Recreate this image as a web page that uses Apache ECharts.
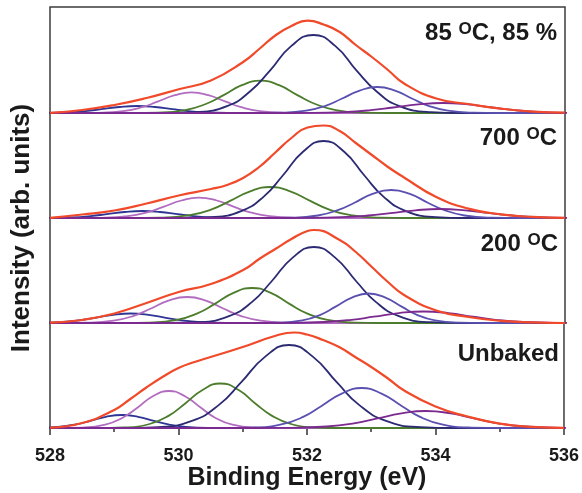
<!DOCTYPE html>
<html lang="en">
<head>
<meta charset="UTF-8">
<title>O 1s spectra</title>
<script src="https://cdn.jsdelivr.net/npm/echarts@6.0.0/dist/echarts.min.js"></script>
<style>
  html, body { margin: 0; padding: 0; background: #fff; }
  #main { width: 582px; height: 493px; }
</style>
</head>
<body>
<div id="main"></div>
<script>
// x axis
var energyMin = 528, energyMax = 536, energyStep = 2;

// panel labels, top to bottom (rich text, O is raised)
var panelLabels = ['{t|85 }{s|O}{t|C, 85 %}', '{t|700 }{s|O}{t|C}', '{t|200 }{s|O}{t|C}', '{t|Unbaked}'];

// 85 C, 85 % : [binding energy, intensity]
var p85Blue = [[527.45,0],[527.85,0.1],[528.25,0.6],[528.55,1.9],[528.8,3.8],[529.08,6.0],[529.35,7],[529.63,6.0],[529.9,3.8],[530.15,1.9],[530.45,0.6],[530.85,0.1],[531.25,0],[536,0]];
var p85Orchid = [[528,0],[528.38,0],[528.76,0.2],[529.14,1.8],[529.43,5.8],[529.67,11.3],[529.94,17.8],[530.2,20.7],[530.46,17.8],[530.73,11.3],[530.97,5.8],[531.26,1.8],[531.64,0.2],[532.02,0],[536,0]];
var p85Green = [[528,0],[529.26,0],[529.68,0.4],[530.1,2.9],[530.42,9.0],[530.69,17.6],[530.98,27.8],[531.27,32.3],[531.56,27.8],[531.85,17.6],[532.12,9.0],[532.44,2.9],[532.86,0.4],[533.28,0],[536,0]];
var p85Navy = [[528,0],[529.77,0],[530.26,0.9],[530.75,6.9],[531.11,21.7],[531.42,42.6],[531.75,67.1],[532.09,78],[532.43,67.1],[532.76,42.6],[533.07,21.7],[533.43,6.9],[533.92,0.9],[534.41,0],[536,0]];
var p85Slate = [[528,0],[531.18,0],[531.58,0.3],[531.98,2.3],[532.28,7.2],[532.53,14.2],[532.81,22.4],[533.08,26],[533.36,22.4],[533.63,14.2],[533.88,7.2],[534.18,2.3],[534.58,0.3],[534.98,0],[536,0]];
var p85Purple = [[528,0],[531.44,0],[532.0,0.1],[532.56,0.9],[532.98,2.8],[533.33,5.5],[533.72,8.6],[534.1,10],[534.49,8.6],[534.87,5.5],[535.22,2.8],[535.64,0.9],[536.2,0.1],[536.76,0]];
var p85Envelope = [[528,0.2],[528.5,3],[529,8],[529.5,15],[530,23.7],[530.5,32.5],[531,51],[531.25,64],[531.5,77.5],[531.75,87],[532,92.3],[532.25,88.5],[532.5,81],[532.75,68],[533,56],[533.25,43],[533.5,29.5],[534,14.5],[534.5,9],[535,4.4],[535.5,1.4],[536,0.3]];

// 700 C
var p700Blue = [[527.53,0],[527.93,0.1],[528.33,0.6],[528.63,1.9],[528.88,3.8],[529.16,6.0],[529.43,7],[529.71,6.0],[529.98,3.8],[530.23,1.9],[530.53,0.6],[530.93,0.1],[531.33,0],[536,0]];
var p700Orchid = [[528,0],[528.41,0],[528.81,0.2],[529.21,1.8],[529.51,5.7],[529.76,11.1],[530.04,17.5],[530.31,20.4],[530.59,17.5],[530.86,11.1],[531.11,5.7],[531.41,1.8],[531.81,0.2],[532.21,0],[536,0]];
var p700Green = [[528,0],[529.25,0],[529.71,0.3],[530.17,2.8],[530.51,8.6],[530.79,16.9],[531.11,26.7],[531.42,31],[531.73,26.7],[532.05,16.9],[532.33,8.6],[532.67,2.8],[533.13,0.3],[533.59,0],[536,0]];
var p700Navy = [[528,0],[530.05,0],[530.51,0.9],[530.97,6.9],[531.32,21.4],[531.61,42],[531.93,66.2],[532.25,77],[532.57,66.2],[532.89,42],[533.18,21.4],[533.53,6.9],[533.99,0.9],[534.45,0],[536,0]];
var p700Slate = [[528,0],[531.32,0],[531.74,0.3],[532.16,2.5],[532.47,7.8],[532.73,15.3],[533.01,24.1],[533.3,28],[533.59,24.1],[533.87,15.3],[534.13,7.8],[534.44,2.5],[534.86,0.3],[535.28,0],[536,0]];
var p700Purple = [[528,0],[531.4,0],[531.96,0.1],[532.52,0.8],[532.94,2.5],[533.29,4.9],[533.68,7.7],[534.06,9],[534.45,7.7],[534.83,4.9],[535.18,2.5],[535.6,0.8],[536.16,0.1],[536.72,0]];
var p700Envelope = [[528,0.2],[528.5,3.5],[529,7.5],[529.5,14.5],[530,22.5],[530.5,29],[530.75,33],[531,40],[531.25,51],[531.5,65.5],[531.75,80],[532,90.5],[532.25,92.5],[532.5,87],[532.75,75],[533,63],[533.25,51],[533.5,40.5],[534,21],[534.5,9.4],[535,3.7],[535.5,1.1],[536,0.2]];

// 200 C
var p200Blue = [[527.35,0],[527.75,0.1],[528.15,0.9],[528.45,2.6],[528.7,5.2],[528.98,8.2],[529.25,9.5],[529.53,8.2],[529.8,5.2],[530.05,2.6],[530.35,0.9],[530.75,0.1],[531.15,0],[536,0]];
var p200Orchid = [[528,0],[528.15,0],[528.57,0.3],[528.99,2.3],[529.3,7.2],[529.56,14.2],[529.84,22.4],[530.13,26],[530.42,22.4],[530.7,14.2],[530.96,7.2],[531.27,2.3],[531.69,0.3],[532.11,0],[536,0]];
var p200Green = [[528,0],[529.13,0],[529.55,0.4],[529.97,3.1],[530.29,9.7],[530.56,19.1],[530.85,30.1],[531.14,35],[531.43,30.1],[531.72,19.1],[531.99,9.7],[532.31,3.1],[532.73,0.4],[533.15,0],[536,0]];
var p200Navy = [[528,0],[529.82,0],[530.3,0.8],[530.78,6.8],[531.14,21.1],[531.44,41.5],[531.77,65.4],[532.1,76],[532.43,65.4],[532.76,41.5],[533.06,21.1],[533.42,6.8],[533.9,0.8],[534.38,0],[536,0]];
var p200Slate = [[528,0],[531.16,0],[531.54,0.3],[531.92,2.6],[532.2,8.2],[532.43,16.1],[532.69,25.4],[532.95,29.5],[533.21,25.4],[533.47,16.1],[533.7,8.2],[533.98,2.6],[534.36,0.3],[534.74,0],[536,0]];
var p200Purple = [[528,0],[531.14,0],[531.7,0.1],[532.26,1.0],[532.68,3.2],[533.03,6.3],[533.42,9.9],[533.8,11.5],[534.19,9.9],[534.57,6.3],[534.92,3.2],[535.34,1.0],[535.9,0.1],[536.46,0]];
var p200Envelope = [[528,0.3],[528.5,3],[529,9.5],[529.5,20],[530,31],[530.5,39],[531,53],[531.25,64],[531.5,74],[531.75,84],[532,92],[532.1,93],[532.5,83],[532.75,71],[533,56],[533.25,41],[533.5,28],[534,12.5],[534.5,6],[535,2.2],[535.5,0.6],[536,0]];

// Unbaked
var ubBlue = [[527.41,0],[527.77,0.1],[528.13,1.2],[528.4,3.6],[528.63,7.1],[528.87,11.2],[529.12,13],[529.37,11.2],[529.62,7.1],[529.84,3.6],[530.11,1.2],[530.47,0.1],[530.83,0],[536,0]];
var ubOrchid = [[528,0],[528.14,0],[528.5,0.4],[528.86,3.3],[529.13,10.3],[529.36,20.2],[529.6,31.8],[529.85,37],[530.1,31.8],[530.35,20.2],[530.57,10.3],[530.84,3.3],[531.2,0.4],[531.56,0],[536,0]];
var ubGreen = [[528,0],[528.75,0],[529.15,0.5],[529.55,4.0],[529.85,12.4],[530.1,24.3],[530.38,38.3],[530.65,44.5],[530.93,38.3],[531.2,24.3],[531.45,12.4],[531.75,4.0],[532.15,0.5],[532.55,0],[536,0]];
var ubNavy = [[528,0],[529.14,0],[529.68,0.9],[530.22,7.4],[530.63,23.1],[530.97,45.3],[531.35,71.4],[531.72,83],[532.09,71.4],[532.47,45.3],[532.81,23.1],[533.22,7.4],[533.76,0.9],[534.3,0],[536,0]];
var ubSlate = [[528,0],[530.68,0],[531.14,0.4],[531.6,3.6],[531.94,11.1],[532.22,21.8],[532.54,34.4],[532.85,40],[533.16,34.4],[533.48,21.8],[533.76,11.1],[534.1,3.6],[534.56,0.4],[535.02,0],[536,0]];
var ubPurple = [[528,0],[531.19,0],[531.75,0.2],[532.31,1.5],[532.73,4.7],[533.08,9.3],[533.47,14.6],[533.85,17],[534.24,14.6],[534.62,9.3],[534.97,4.7],[535.39,1.5],[535.95,0.2],[536.51,0]];
var ubEnvelope = [[528,0.3],[528.5,5],[529,18],[529.25,29],[529.5,40.5],[529.75,51],[530,60],[530.25,66],[530.5,71],[531,81],[531.5,92],[531.8,95.5],[532,93.5],[532.25,88],[532.5,81],[532.75,71],[533,61],[533.25,50],[533.5,38],[534,21.5],[534.5,11.5],[535,4.4],[535.5,1.1],[536,0.2]];

var panelCurves = [
    [p85Blue, p85Orchid, p85Green, p85Navy, p85Slate, p85Purple, p85Envelope],
    [p700Blue, p700Orchid, p700Green, p700Navy, p700Slate, p700Purple, p700Envelope],
    [p200Blue, p200Orchid, p200Green, p200Navy, p200Slate, p200Purple, p200Envelope],
    [ubBlue, ubOrchid, ubGreen, ubNavy, ubSlate, ubPurple, ubEnvelope]
]

var curveColors = ['#2e3594', '#b16cc0', '#4c7d2c', '#2b2a72', '#5a50b0', '#7b2a8f', '#f04a2a']
var curveWidths = [1.8, 1.8, 1.8, 1.8, 1.8, 1.8, 2.2]

var font = 'Liberation Sans, Arial, sans-serif'
var gridTop = [7, 113, 218, 323]
var gridHeight = [106, 105, 105, 105]

var chartDom = document.getElementById('main')
var myChart = echarts.init(chartDom)

var grids = [], xAxes = [], yAxes = [], series = [], graphics = []

gridTop.forEach(function (top, i) {
    var last = i === gridTop.length - 1
    grids.push({
        left: 50, right: 17, top: top, height: gridHeight[i],
        show: true, borderColor: '#3d3d3d', borderWidth: 1.5
    })
    xAxes.push({
        type: 'value', gridIndex: i,
        min: energyMin, max: energyMax, interval: energyStep,
        show: last,
        axisLine: { show: true, onZero: false, lineStyle: { color: '#333', width: 1.5 } },
        axisTick: { show: true, inside: false, length: 7, lineStyle: { color: '#333', width: 1.5 } },
        minorTick: { show: true, splitNumber: 2, length: 4, lineStyle: { color: '#333', width: 1.5 } },
        splitLine: { show: false },
        axisLabel: { show: last, margin: 19, color: '#1a1a1a', fontSize: 18, fontWeight: 'bold', fontFamily: font },
        name: last ? 'Binding Energy (eV)' : '',
        nameLocation: 'middle', nameGap: 37,
        nameTextStyle: { color: '#1a1a1a', fontSize: 25, fontWeight: 'bold', fontFamily: font }
    })
    yAxes.push({
        type: 'value', gridIndex: i, min: 0, max: gridHeight[i], show: false
    })
    panelCurves[i].forEach(function (curve, j) {
        series.push({
            type: 'line', xAxisIndex: i, yAxisIndex: i,
            data: curve, smooth: 0.5, showSymbol: false, clip: true,
            lineStyle: { color: curveColors[j], width: curveWidths[j] },
            z: j === 6 ? 4 : 3
        })
    })
})

var labelPos = [[557, 33], [557, 138], [558, 244], [559, 354]]
panelLabels.forEach(function (txt, i) {
    graphics.push({
        type: 'text', x: labelPos[i][0], y: labelPos[i][1], z: 10,
        style: {
            text: txt, align: 'right', verticalAlign: 'middle',
            rich: {
                t: { fontSize: 24, fontWeight: 'bold', fontFamily: font, fill: '#1a1a1a' },
                s: { fontSize: 17, fontWeight: 'bold', fontFamily: font, fill: '#1a1a1a', verticalAlign: 'top' }
            }
        }
    })
})

graphics.push({
    type: 'text', x: 22, y: 228, rotation: Math.PI / 2,
    style: {
        text: 'Intensity (arb. units)', align: 'center', verticalAlign: 'middle',
        fontSize: 26, fontWeight: 'bold', fontFamily: font, fill: '#1a1a1a'
    }
})

var option = {
    animation: false,
    backgroundColor: '#fff',
    grid: grids,
    xAxis: xAxes,
    yAxis: yAxes,
    series: series,
    graphic: graphics
}

option && myChart.setOption(option)
</script>
</body>
</html>
